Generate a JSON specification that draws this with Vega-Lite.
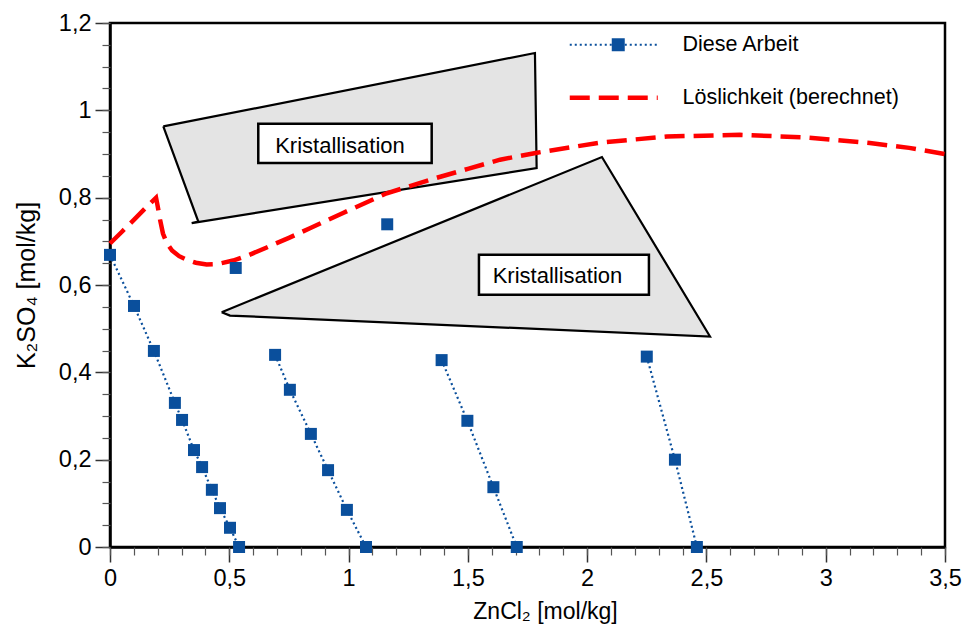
{
  "$schema": "https://vega.github.io/schema/vega-lite/v6.json",
  "width": 835,
  "height": 524,
  "autosize": {"type": "none"},
  "padding": {"left": 110, "top": 23, "right": 24, "bottom": 88},
  "background": "white",
  "config": {
    "view": {"stroke": "black", "strokeWidth": 2.5},
    "font": "Liberation Sans",
    "axis": {"grid": false, "labelColor": "black", "titleColor": "black", "titleFontWeight": "normal", "labelFlush": false, "labelOverlap": false}
  },
  "datasets": {
    "diese": [
      {"x": 0, "y": 0.669, "run": 1}, {"x": 0.1006, "y": 0.552, "run": 1}, {"x": 0.184, "y": 0.449, "run": 1},
      {"x": 0.272, "y": 0.330, "run": 1}, {"x": 0.302, "y": 0.291, "run": 1}, {"x": 0.352, "y": 0.222, "run": 1},
      {"x": 0.386, "y": 0.183, "run": 1}, {"x": 0.427, "y": 0.131, "run": 1}, {"x": 0.461, "y": 0.089, "run": 1},
      {"x": 0.503, "y": 0.044, "run": 1}, {"x": 0.541, "y": 0.0, "run": 1},
      {"x": 0.692, "y": 0.440, "run": 2}, {"x": 0.754, "y": 0.360, "run": 2}, {"x": 0.842, "y": 0.259, "run": 2},
      {"x": 0.914, "y": 0.176, "run": 2}, {"x": 0.993, "y": 0.085, "run": 2}, {"x": 1.073, "y": 0.0, "run": 2},
      {"x": 1.390, "y": 0.428, "run": 3}, {"x": 1.498, "y": 0.289, "run": 3}, {"x": 1.607, "y": 0.137, "run": 3},
      {"x": 1.705, "y": 0.0, "run": 3},
      {"x": 2.250, "y": 0.436, "run": 4}, {"x": 2.368, "y": 0.200, "run": 4}, {"x": 2.460, "y": 0.0, "run": 4}
    ],
    "einzel": [
      {"x": 0.527, "y": 0.639},
      {"x": 1.162, "y": 0.739}
    ],
    "loes": [
      {"x": 0, "y": 0.695}, {"x": 0.05, "y": 0.722}, {"x": 0.10, "y": 0.749}, {"x": 0.15, "y": 0.777},
      {"x": 0.193, "y": 0.800}, {"x": 0.200, "y": 0.780}, {"x": 0.210, "y": 0.749}, {"x": 0.222, "y": 0.718},
      {"x": 0.238, "y": 0.696}, {"x": 0.26, "y": 0.679}, {"x": 0.29, "y": 0.666}, {"x": 0.321, "y": 0.658},
      {"x": 0.36, "y": 0.651}, {"x": 0.405, "y": 0.647}, {"x": 0.45, "y": 0.648}, {"x": 0.516, "y": 0.656},
      {"x": 0.58, "y": 0.668}, {"x": 0.657, "y": 0.686}, {"x": 0.75, "y": 0.708}, {"x": 0.838, "y": 0.730},
      {"x": 0.977, "y": 0.765}, {"x": 1.16, "y": 0.810}, {"x": 1.354, "y": 0.843}, {"x": 1.5, "y": 0.866},
      {"x": 1.635, "y": 0.887}, {"x": 1.79, "y": 0.903}, {"x": 2.054, "y": 0.926}, {"x": 2.334, "y": 0.940},
      {"x": 2.64, "y": 0.944}, {"x": 2.921, "y": 0.938}, {"x": 3.185, "y": 0.925}, {"x": 3.35, "y": 0.914},
      {"x": 3.5, "y": 0.900}
    ],
    "flaechen": [
      {"poly": "A", "o": 1, "x": 0.2234, "y": 0.9631},
      {"poly": "A", "o": 2, "x": 1.7812, "y": 1.1313},
      {"poly": "A", "o": 3, "x": 1.7883, "y": 0.8678},
      {"poly": "A", "o": 4, "x": 0.3424, "y": 0.7418},
      {"poly": "A", "o": 5, "x": 0.3701, "y": 0.7454},
      {"poly": "A", "o": 6, "x": 0.2234, "y": 0.9631},
      {"poly": "B", "o": 1, "x": 0.468, "y": 0.5378},
      {"poly": "B", "o": 2, "x": 2.062, "y": 0.893},
      {"poly": "B", "o": 3, "x": 2.515, "y": 0.482},
      {"poly": "B", "o": 4, "x": 0.503, "y": 0.530},
      {"poly": "B", "o": 5, "x": 0.468, "y": 0.5378}
    ],
    "kaesten": [
      {"x1": 0.6215, "x2": 1.3484, "y1": 0.9693, "y2": 0.8792, "xm": 0.964, "ym": 0.918, "label": "Kristallisation"},
      {"x1": 1.5465, "x2": 2.259, "y1": 0.669, "y2": 0.5775, "xm": 1.8755, "ym": 0.621, "label": "Kristallisation"}
    ]
  },
  "resolve": {"axis": {"x": "independent", "y": "independent"}},
  "layer": [
    {
      "data": {"name": "flaechen"},
      "mark": {"type": "line", "fill": "#e4e4e4", "stroke": "black", "strokeWidth": 2.2, "strokeJoin": "miter"},
      "encoding": {
        "x": {"field": "x", "type": "quantitative", "scale": {"domain": [0, 3.5], "nice": false, "zero": false},
          "axis": {"orient": "bottom", "values": [0, 0.5, 1, 1.5, 2, 2.5, 3, 3.5], "tickSize": 15, "tickWidth": 1.5, "tickColor": "#333",
            "domainColor": "black", "domainWidth": 2.5, "labelFontSize": 23.5, "labelPadding": 4,
            "labelExpr": "replace(format(datum.value, '~g'), '.', ',')",
            "title": "ZnCl₂ [mol/kg]", "titleFontSize": 23, "titlePadding": 11, "titleX": 435}},
        "y": {"field": "y", "type": "quantitative", "scale": {"domain": [0, 1.2], "nice": false, "zero": false},
          "axis": {"orient": "left", "values": [0, 0.2, 0.4, 0.6, 0.8, 1, 1.2], "tickSize": 15, "tickWidth": 1.5, "tickColor": "#333",
            "domainColor": "black", "domainWidth": 2.5, "labelFontSize": 23.5, "labelPadding": 4,
            "labelExpr": "replace(format(datum.value, '~g'), '.', ',')",
            "title": "K₂SO₄ [mol/kg]", "titleFontSize": 25, "titlePadding": 19}},
        "detail": {"field": "poly"},
        "order": {"field": "o", "type": "quantitative"}
      }
    },
    {
      "data": {"name": "kaesten"},
      "mark": {"type": "rect", "fill": "white", "stroke": "black", "strokeWidth": 2.5},
      "encoding": {
        "x": {"field": "x1", "type": "quantitative",
          "axis": {"orient": "bottom", "values": [0,0.1,0.2,0.3,0.4,0.5,0.6,0.7,0.8,0.9,1,1.1,1.2,1.3,1.4,1.5,1.6,1.7,1.8,1.9,2,2.1,2.2,2.3,2.4,2.5,2.6,2.7,2.8,2.9,3,3.1,3.2,3.3,3.4,3.5],
            "tickSize": 8, "tickWidth": 1.2, "tickColor": "#555", "labels": false, "domain": false, "title": null}},
        "x2": {"field": "x2"},
        "y": {"field": "y1", "type": "quantitative",
          "axis": {"orient": "left", "values": [0,0.05,0.1,0.15,0.2,0.25,0.3,0.35,0.4,0.45,0.5,0.55,0.6,0.65,0.7,0.75,0.8,0.85,0.9,0.95,1,1.05,1.1,1.15,1.2],
            "tickSize": 8, "tickWidth": 1.2, "tickColor": "#555", "labels": false, "domain": false, "title": null}},
        "y2": {"field": "y2"}
      }
    },
    {
      "data": {"name": "kaesten"},
      "mark": {"type": "text", "fontSize": 22, "font": "Liberation Sans", "align": "center", "baseline": "middle", "color": "black"},
      "encoding": {
        "x": {"field": "xm", "type": "quantitative", "axis": null},
        "y": {"field": "ym", "type": "quantitative", "axis": null},
        "text": {"field": "label"}
      }
    },
    {
      "data": {"name": "loes"},
      "mark": {"type": "line", "strokeWidth": 4.5, "strokeDash": [20, 9]},
      "encoding": {
        "x": {"field": "x", "type": "quantitative", "axis": null},
        "y": {"field": "y", "type": "quantitative", "axis": null},
        "color": {"datum": "Löslichkeit (berechnet)", "type": "nominal"}
      }
    },
    {
      "data": {"name": "diese"},
      "mark": {"type": "line", "strokeWidth": 2.2, "strokeDash": [2, 3]},
      "encoding": {
        "x": {"field": "x", "type": "quantitative", "axis": null},
        "y": {"field": "y", "type": "quantitative", "axis": null},
        "detail": {"field": "run"},
        "color": {"datum": "Diese Arbeit", "type": "nominal",
          "scale": {"domain": ["Diese Arbeit", "Löslichkeit (berechnet)"], "range": ["#0a4f9c", "#ff0000"]},
          "legend": {"orient": "none", "legendX": 493, "legendY": 11, "title": null,
            "symbolType": "M-4,0H4", "symbolSize": 484, "labelFontSize": 21.5, "labelFont": "Liberation Sans",
            "labelColor": "black", "labelOffset": 58, "rowPadding": 30, "padding": 0, "labelLimit": 400,
            "encode": {"symbols": {"update": {
              "fill": {"value": "transparent"},
              "strokeDash": {"signal": "datum.value === 'Diese Arbeit' ? [2,3] : [20,9]"},
              "strokeWidth": {"signal": "datum.value === 'Diese Arbeit' ? 2.2 : 4.5"}
            }}}}}
      }
    },
    {
      "data": {"name": "diese"},
      "mark": {"type": "point", "shape": "square", "filled": true, "size": 144, "color": "#0a4f9c", "opacity": 1},
      "encoding": {
        "x": {"field": "x", "type": "quantitative", "axis": null},
        "y": {"field": "y", "type": "quantitative", "axis": null}
      }
    },
    {
      "data": {"name": "einzel"},
      "mark": {"type": "point", "filled": true, "size": 144, "color": "#0a4f9c", "opacity": 1},
      "encoding": {
        "x": {"field": "x", "type": "quantitative", "axis": null},
        "y": {"field": "y", "type": "quantitative", "axis": null},
        "shape": {"datum": "Diese Arbeit", "type": "nominal", "scale": {"range": ["square"]},
          "legend": {"orient": "none", "legendX": 497.5, "legendY": 11, "title": null, "symbolSize": 169,
            "symbolStrokeWidth": 0, "symbolFillColor": "#0a4f9c", "symbolOpacity": 1, "labelFontSize": 21.5,
            "labelExpr": "''", "padding": 0, "rowPadding": 30}}
      }
    }
  ]
}
